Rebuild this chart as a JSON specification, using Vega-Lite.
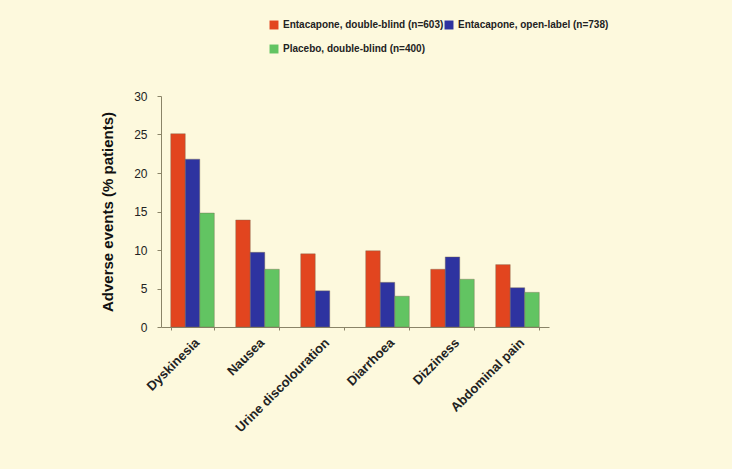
{
  "$schema": "https://vega.github.io/schema/vega-lite/v6.json",
  "width": 388,
  "height": 231,
  "background": "#fdf9dd",
  "padding": {"left": 100, "top": 20, "right": 184, "bottom": 37},
  "config": {
    "view": {"stroke": null},
    "font": "Liberation Sans",
    "axis": {"grid": false, "domainColor": "#8a8468", "tickColor": "#8a8468", "labelColor": "#222", "titleColor": "#111"}
  },
  "data": {
    "values": [
      {"event": "Dyskinesia", "group": "Entacapone, double-blind (n=603)", "value": 25.1},
      {"event": "Dyskinesia", "group": "Entacapone, open-label (n=738)", "value": 21.8},
      {"event": "Dyskinesia", "group": "Placebo, double-blind (n=400)", "value": 14.8},
      {"event": "Nausea", "group": "Entacapone, double-blind (n=603)", "value": 13.9},
      {"event": "Nausea", "group": "Entacapone, open-label (n=738)", "value": 9.7},
      {"event": "Nausea", "group": "Placebo, double-blind (n=400)", "value": 7.5},
      {"event": "Urine discolouration", "group": "Entacapone, double-blind (n=603)", "value": 9.5},
      {"event": "Urine discolouration", "group": "Entacapone, open-label (n=738)", "value": 4.7},
      {"event": "Diarrhoea", "group": "Entacapone, double-blind (n=603)", "value": 9.9},
      {"event": "Diarrhoea", "group": "Entacapone, open-label (n=738)", "value": 5.8},
      {"event": "Diarrhoea", "group": "Placebo, double-blind (n=400)", "value": 4.0},
      {"event": "Dizziness", "group": "Entacapone, double-blind (n=603)", "value": 7.5},
      {"event": "Dizziness", "group": "Entacapone, open-label (n=738)", "value": 9.1},
      {"event": "Dizziness", "group": "Placebo, double-blind (n=400)", "value": 6.2},
      {"event": "Abdominal pain", "group": "Entacapone, double-blind (n=603)", "value": 8.1},
      {"event": "Abdominal pain", "group": "Entacapone, open-label (n=738)", "value": 5.1},
      {"event": "Abdominal pain", "group": "Placebo, double-blind (n=400)", "value": 4.5}
    ]
  },
  "mark": {"type": "bar", "stroke": "#7a6a50", "strokeWidth": 0.4},
  "encoding": {
    "x": {
      "field": "event", "type": "nominal",
      "sort": ["Dyskinesia", "Nausea", "Urine discolouration", "Diarrhoea", "Dizziness", "Abdominal pain"],
      "scale": {"paddingInner": 0.33, "paddingOuter": 0.15},
      "axis": {"title": null, "labelAngle": -45, "labelFontSize": 13, "labelFontWeight": "bold", "labelPadding": 6, "ticks": true, "tickBand": "extent", "tickSize": 3}
    },
    "xOffset": {
      "field": "group", "type": "nominal",
      "sort": ["Entacapone, double-blind (n=603)", "Entacapone, open-label (n=738)", "Placebo, double-blind (n=400)"]
    },
    "y": {
      "field": "value", "type": "quantitative",
      "scale": {"domain": [0, 30]},
      "axis": {"title": "Adverse events (% patients)", "values": [0, 5, 10, 15, 20, 25, 30], "labelFontSize": 12, "labelPadding": 10, "tickSize": 4, "titleFontSize": 15, "titleFontWeight": "bold", "titlePadding": 18}
    },
    "color": {
      "field": "group", "type": "nominal",
      "sort": ["Entacapone, double-blind (n=603)", "Entacapone, open-label (n=738)", "Placebo, double-blind (n=400)"],
      "scale": {"range": ["#e2451f", "#2e33a0", "#62c462"]},
      "legend": {
        "title": null, "orient": "none", "legendX": 108, "legendY": -76,
        "direction": "horizontal", "columns": 2, "symbolType": "square", "symbolSize": 80,
        "symbolStrokeWidth": 0, "labelFontSize": 10, "labelFontWeight": "bold", "labelColor": "#222",
        "columnPadding": -19, "rowPadding": 14, "labelLimit": 300
      }
    }
  }
}
